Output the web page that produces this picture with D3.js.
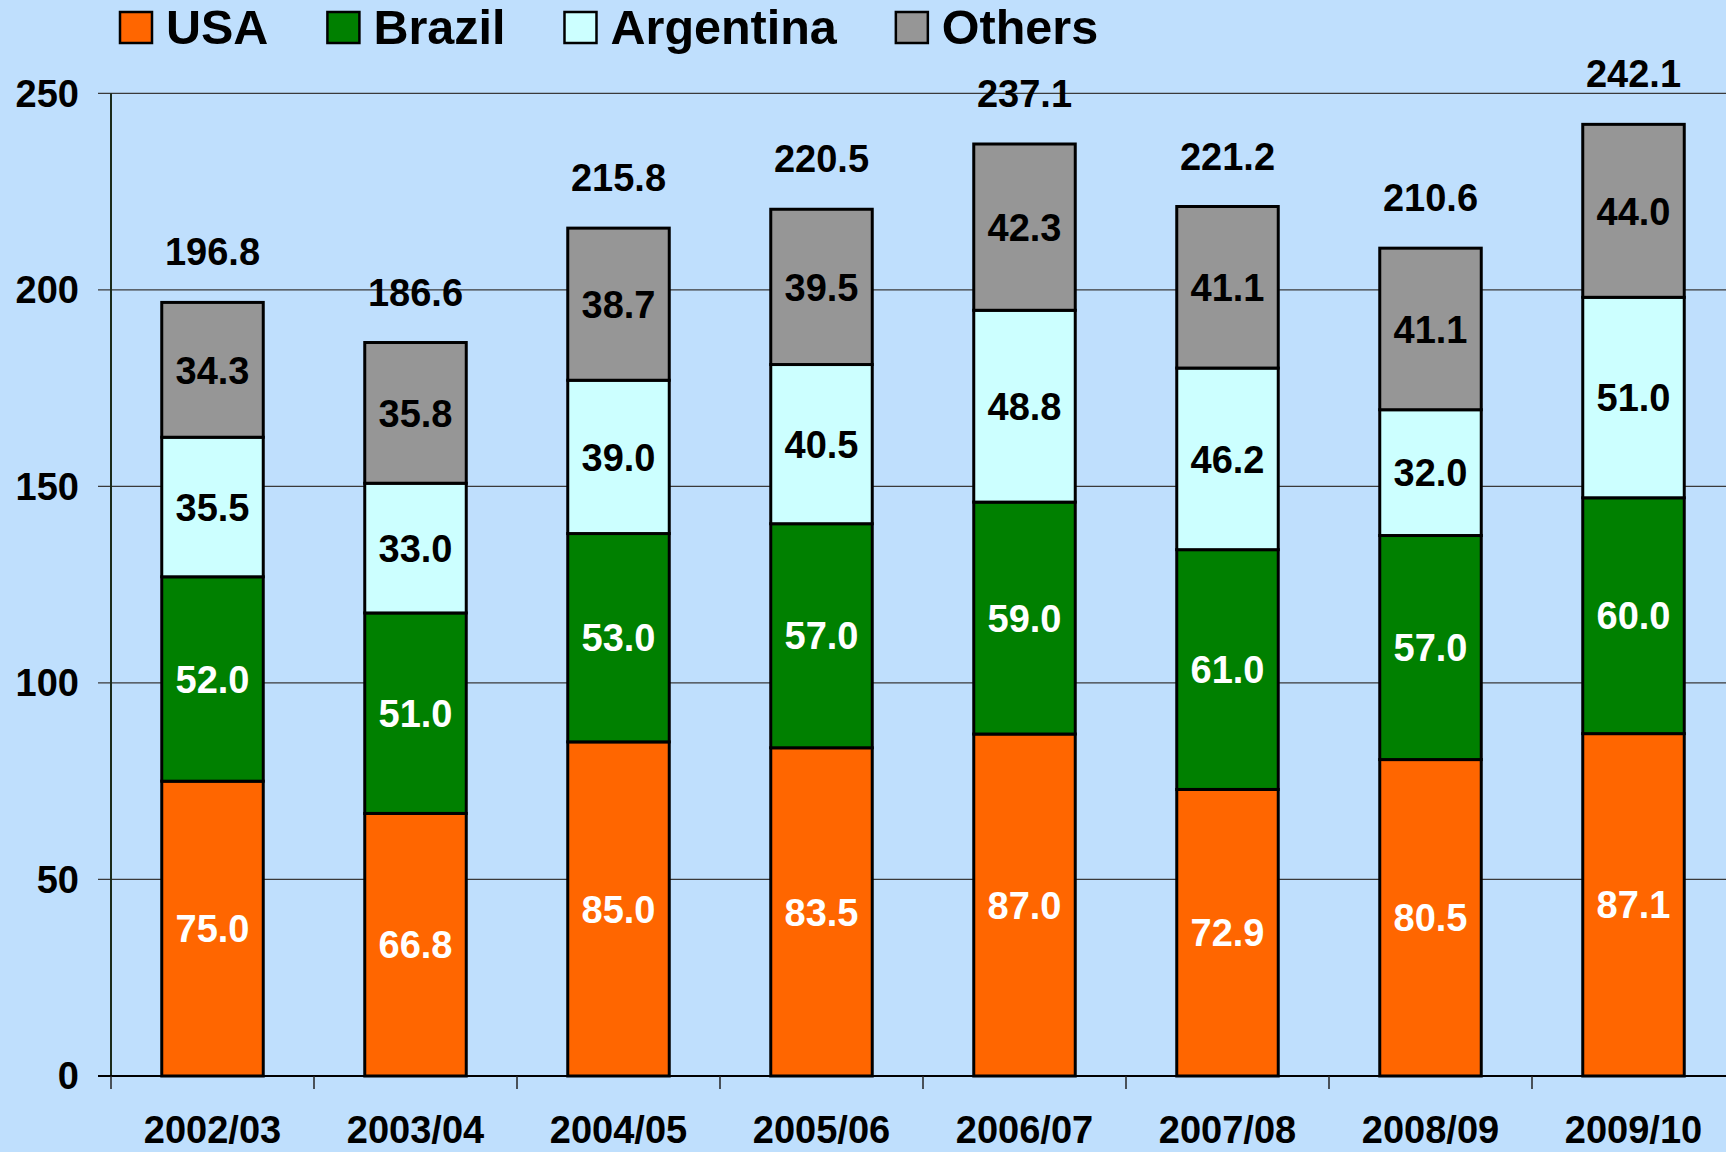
<!DOCTYPE html>
<html>
<head>
<meta charset="utf-8">
<script src="https://cdn.jsdelivr.net/npm/d3@7"></script>
<style>
  html, body { margin: 0; padding: 0; background: #BFDFFD; }
  svg { display: block; }
  text { font-family: "Liberation Sans", Arial, sans-serif; font-weight: bold; }
</style>
</head>
<body>
<svg id="chart" width="1726" height="1152"></svg>
<script>
const categories = ["2002/03", "2003/04", "2004/05", "2005/06", "2006/07", "2007/08", "2008/09", "2009/10"];
const seriesNames = ["USA", "Brazil", "Argentina", "Others"];
const usa       = [75.0, 66.8, 85.0, 83.5, 87.0, 72.9, 80.5, 87.1];
const brazil    = [52.0, 51.0, 53.0, 57.0, 59.0, 61.0, 57.0, 60.0];
const argentina = [35.5, 33.0, 39.0, 40.5, 48.8, 46.2, 32.0, 51.0];
const others    = [34.3, 35.8, 38.7, 39.5, 42.3, 41.1, 41.1, 44.0];
const totals    = [196.8, 186.6, 215.8, 220.5, 237.1, 221.2, 210.6, 242.1];
const yTicks    = [0, 50, 100, 150, 200, 250];

const colors = ["#FF6600", "#008000", "#CCFFFF", "#969696"];
const labelColors = ["#FFFFFF", "#FFFFFF", "#000000", "#000000"];

const svg = d3.select("#chart");
const W = 1726;

const y = d3.scaleLinear().domain([0, 250]).range([1076, 93.3]);
const x = d3.scaleBand().domain(categories).range([111, 1735]).paddingInner(0).paddingOuter(0);
const barW = x.bandwidth() * 0.5;

const rows = categories.map((c, i) => ({
  cat: c, USA: usa[i], Brazil: brazil[i], Argentina: argentina[i], Others: others[i], total: totals[i]
}));
const stacked = d3.stack().keys(seriesNames)(rows);

// gridlines
svg.append("g").selectAll("line").data(yTicks.filter(t => t > 0)).join("line")
  .attr("x1", 98).attr("x2", W)
  .attr("y1", d => y(d)).attr("y2", d => y(d))
  .attr("stroke", "#3a3a3a").attr("stroke-width", 1.2);

// y axis tick mark at 0
svg.append("line").attr("x1", 98).attr("x2", 111).attr("y1", y(0)).attr("y2", y(0))
  .attr("stroke", "#222").attr("stroke-width", 1.5);

// y tick labels
svg.append("g").selectAll("text").data(yTicks).join("text")
  .attr("x", 79).attr("y", d => y(d))
  .attr("dy", "0.35em")
  .attr("text-anchor", "end")
  .attr("font-size", 38)
  .attr("fill", "#000")
  .text(d => d);

// bars
const segG = svg.append("g");
stacked.forEach((s, si) => {
  segG.append("g").selectAll("rect").data(s).join("rect")
    .attr("x", d => x(d.data.cat) + (x.bandwidth() - barW) / 2)
    .attr("width", barW)
    .attr("y", d => y(d[1]))
    .attr("height", d => y(d[0]) - y(d[1]))
    .attr("fill", colors[si])
    .attr("stroke", "#000")
    .attr("stroke-width", 3);
});

// segment labels
stacked.forEach((s, si) => {
  segG.append("g").selectAll("text").data(s).join("text")
    .attr("x", d => x(d.data.cat) + x.bandwidth() / 2)
    .attr("y", d => (y(d[0]) + y(d[1])) / 2)
    .attr("dy", "0.36em")
    .attr("text-anchor", "middle")
    .attr("font-size", 38)
    .attr("fill", labelColors[si])
    .text(d => (d[1] - d[0]).toFixed(1));
});

// totals
svg.append("g").selectAll("text").data(rows).join("text")
  .attr("x", d => x(d.cat) + x.bandwidth() / 2)
  .attr("y", (d, i) => y(stacked[3][i][1]) - 37)
  .attr("text-anchor", "middle")
  .attr("font-size", 38)
  .attr("fill", "#000")
  .text(d => d.total.toFixed(1));

// y axis line
svg.append("line").attr("x1", 111).attr("x2", 111).attr("y1", y(250)).attr("y2", y(0))
  .attr("stroke", "#1a2a1a").attr("stroke-width", 2);

// x axis line
svg.append("line").attr("x1", 98).attr("x2", W).attr("y1", y(0)).attr("y2", y(0))
  .attr("stroke", "#000").attr("stroke-width", 2);

// x tick marks at band boundaries
const bounds = categories.map(c => x(c)).concat([x.range()[1]]);
svg.append("g").selectAll("line").data(bounds).join("line")
  .attr("x1", d => d).attr("x2", d => d)
  .attr("y1", y(0)).attr("y2", y(0) + 13)
  .attr("stroke", "#222").attr("stroke-width", 1.5);

// category labels
svg.append("g").selectAll("text").data(categories).join("text")
  .attr("x", d => x(d) + x.bandwidth() / 2)
  .attr("y", 1143)
  .attr("text-anchor", "middle")
  .attr("font-size", 38)
  .attr("fill", "#000")
  .text(d => d);

// legend
const leg = svg.append("g");
let lx = 120;
seriesNames.forEach((name, i) => {
  leg.append("rect").attr("x", lx).attr("y", 12).attr("width", 32).attr("height", 31)
    .attr("fill", colors[i]).attr("stroke", "#000").attr("stroke-width", 2.5);
  const t = leg.append("text").attr("x", lx + 46).attr("y", 44)
    .attr("font-size", 48.5).attr("fill", "#000").text(name);
  const w = t.node().getComputedTextLength();
  lx = lx + 46 + w + 59;
});
</script>
</body>
</html>
